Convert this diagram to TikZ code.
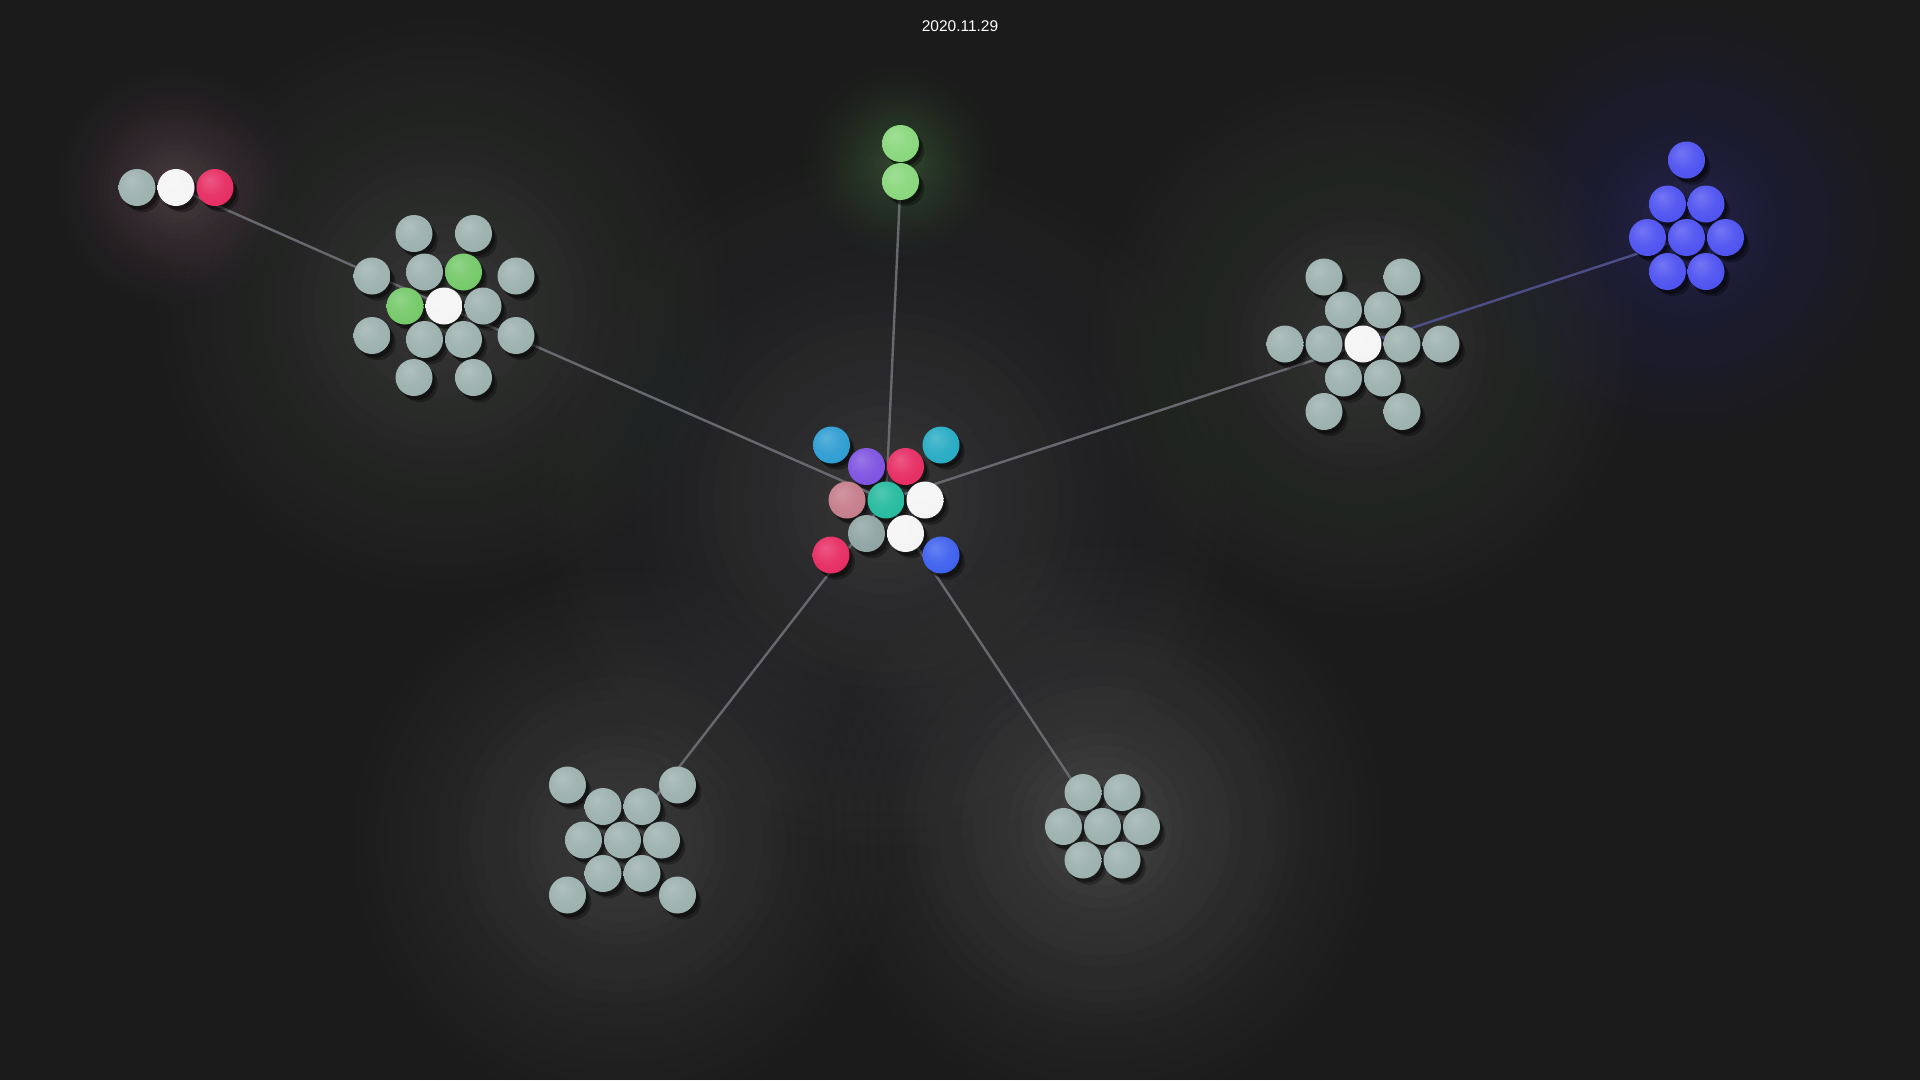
\documentclass[tikz,border=0pt]{standalone}
\usepackage{fontspec}
\setmainfont{Liberation Sans}
\usetikzlibrary{shadows}
\definecolor{bg}{HTML}{1B1B1B}
\definecolor{ballgray}{HTML}{9AAFAD}
\definecolor{ballwhite}{HTML}{F4F4F4}
\definecolor{ballred}{HTML}{E6285F}
\definecolor{ballgreen}{HTML}{72C866}
\definecolor{balllime}{HTML}{86D679}
\definecolor{ballcyan}{HTML}{2A9BD1}
\definecolor{ballteal}{HTML}{22A9C2}
\definecolor{ballpurple}{HTML}{7B4FE0}
\definecolor{ballmauve}{HTML}{C47A88}
\definecolor{ballmint}{HTML}{20B99C}
\definecolor{ballslate}{HTML}{8EA2A2}
\definecolor{ballblue}{HTML}{3A5EEE}
\definecolor{ballindigo}{HTML}{4B4FF0}
\definecolor{edgegray}{HTML}{68686F}
\definecolor{edgeblue}{HTML}{4E4E86}
\definecolor{glowgray}{HTML}{7E7E7E}
\definecolor{glowcool}{HTML}{72727A}
\definecolor{glowsage}{HTML}{747874}
\definecolor{glowpink}{HTML}{8E7280}
\definecolor{glowgreen}{HTML}{62905E}
\definecolor{glowblue}{HTML}{4444A8}
\colorlet{sph}{gray}
\pgfdeclareradialshading[sph]{sphere}{\pgfpoint{-8bp}{10bp}}{color(0bp)=(sph!78!white); color(18bp)=(sph!93!white); color(36bp)=(sph); color(50bp)=(sph!92!black); color(62bp)=(sph!84!black)}
\pgfdeclarelayer{glowlayer}
\pgfdeclarelayer{edgelayer}
\pgfsetlayers{glowlayer,edgelayer,main}
% #1,#2 centre, #3 radius, #4 colour, #5 peak strength
\newcommand\myglow[5]{\foreach \k in {1,...,30}{\pgfmathsetmacro\rr{#3*\k/30}\pgfmathsetmacro\aa{#5*2*(30-\k+0.5)/900}\fill[#4,opacity=\aa] (#1,#2) circle[radius=\rr pt];}}
\tikzset{
  ball/.style={circle, inner sep=0pt, minimum size=37pt, draw=none,
    /utils/exec={\colorlet{sph}{#1}}, shade, shading=sphere,
    drop shadow={shadow xshift=6pt, shadow yshift=-7pt, shadow scale=0.97, fill=black, opacity=0.3},
    drop shadow={shadow xshift=3pt, shadow yshift=-4pt, fill=black, opacity=0.4}},
  link/.style={draw=edgegray, line width=2.4pt},
  bluelink/.style={draw=edgeblue, line width=2.4pt},
  datelabel/.style={text=white, font=\fontsize{15.5}{18}\selectfont, inner sep=0pt}
}
\begin{document}
\begin{tikzpicture}[x=1pt,y=-1pt]
\useasboundingbox (0,0) rectangle (1920,1080);
\begin{pgfonlayer}{glowlayer}
\fill[bg] (0,0) rectangle (1920,1080);
\myglow{886}{500}{470}{glowcool}{0.55}
\myglow{444}{306}{390}{glowsage}{0.58}
\myglow{176}{187}{155}{glowpink}{0.65}
\myglow{900}{162}{125}{glowgreen}{0.62}
\myglow{1363}{344}{370}{glowsage}{0.52}
\myglow{1686}{225}{270}{glowblue}{0.55}
\myglow{622}{840}{350}{glowgray}{0.6}
\myglow{1102}{827}{350}{glowgray}{0.72}
\end{pgfonlayer}

\node[datelabel] (date) at (960,26) {2020.11.29};

% centre cluster
\node[ball=ballcyan]   (c1)  at (831.5,445) {};
\node[ball=ballpurple] (c2)  at (866.5,466.5) {};
\node[ball=ballred]    (c3)  at (905.5,466.5) {};
\node[ball=ballteal]   (c4)  at (941,445) {};
\node[ball=ballmauve]  (c5)  at (847,500) {};
\node[ball=ballmint]   (c6)  at (886,500) {};
\node[ball=ballwhite]  (c7)  at (925,500) {};
\node[ball=ballslate]  (c8)  at (866.5,533.5) {};
\node[ball=ballwhite]  (c9)  at (905.5,533.5) {};
\node[ball=ballred]    (c10) at (831,555) {};
\node[ball=ballblue]   (c11) at (941,555) {};

% left cluster
\node[ball=ballgray]  (l1)  at (414,233.5) {};
\node[ball=ballgray]  (l2)  at (473.5,233.5) {};
\node[ball=ballgray]  (l3)  at (372,276) {};
\node[ball=ballgray]  (l4)  at (424.5,272) {};
\node[ball=ballgreen] (l5)  at (463.5,272) {};
\node[ball=ballgray]  (l6)  at (516,276) {};
\node[ball=ballgreen] (l7)  at (405,306) {};
\node[ball=ballwhite] (l8)  at (444,306) {};
\node[ball=ballgray]  (l9)  at (483,306) {};
\node[ball=ballgray]  (l10) at (372,335.5) {};
\node[ball=ballgray]  (l11) at (424.5,339.5) {};
\node[ball=ballgray]  (l12) at (463.5,339.5) {};
\node[ball=ballgray]  (l13) at (516,335.5) {};
\node[ball=ballgray]  (l14) at (414,377.5) {};
\node[ball=ballgray]  (l15) at (473.5,377.5) {};

% top-left triple
\node[ball=ballgray]  (t1) at (137,187.5) {};
\node[ball=ballwhite] (t2) at (176,187.5) {};
\node[ball=ballred]   (t3) at (215,187.5) {};

% top green pair
\node[ball=balllime] (g1) at (900.5,143.5) {};
\node[ball=balllime] (g2) at (900.5,181.5) {};

% right cluster
\node[ball=ballgray]  (r1)  at (1324,277) {};
\node[ball=ballgray]  (r2)  at (1402,277) {};
\node[ball=ballgray]  (r3)  at (1343.5,310) {};
\node[ball=ballgray]  (r4)  at (1382.5,310) {};
\node[ball=ballgray]  (r5)  at (1285,344) {};
\node[ball=ballgray]  (r6)  at (1324,344) {};
\node[ball=ballwhite] (r7)  at (1363,344) {};
\node[ball=ballgray]  (r8)  at (1402,344) {};
\node[ball=ballgray]  (r9)  at (1441,344) {};
\node[ball=ballgray]  (r10) at (1343.5,378) {};
\node[ball=ballgray]  (r11) at (1382.5,378) {};
\node[ball=ballgray]  (r12) at (1324,411.5) {};
\node[ball=ballgray]  (r13) at (1402,411.5) {};

% blue cluster
\node[ball=ballindigo] (b1) at (1686.5,160) {};
\node[ball=ballindigo] (b2) at (1667.5,204) {};
\node[ball=ballindigo] (b3) at (1706,204) {};
\node[ball=ballindigo] (b4) at (1647.5,237.5) {};
\node[ball=ballindigo] (b5) at (1686.5,237.5) {};
\node[ball=ballindigo] (b6) at (1725.5,237.5) {};
\node[ball=ballindigo] (b7) at (1667.5,271.5) {};
\node[ball=ballindigo] (b8) at (1706,271.5) {};

% bottom-left cluster
\node[ball=ballgray] (d1)  at (567.5,785) {};
\node[ball=ballgray] (d2)  at (677.5,785) {};
\node[ball=ballgray] (d3)  at (603,806.5) {};
\node[ball=ballgray] (d4)  at (642,806.5) {};
\node[ball=ballgray] (d5)  at (583.5,840) {};
\node[ball=ballgray] (d6)  at (622.5,840) {};
\node[ball=ballgray] (d7)  at (661.5,840) {};
\node[ball=ballgray] (d8)  at (603,873.5) {};
\node[ball=ballgray] (d9)  at (642,873.5) {};
\node[ball=ballgray] (d10) at (567.5,895) {};
\node[ball=ballgray] (d11) at (677.5,895) {};

% bottom-right cluster
\node[ball=ballgray] (e1) at (1083,792.5) {};
\node[ball=ballgray] (e2) at (1122,792.5) {};
\node[ball=ballgray] (e3) at (1063.5,826.5) {};
\node[ball=ballgray] (e4) at (1102.5,826.5) {};
\node[ball=ballgray] (e5) at (1141.5,826.5) {};
\node[ball=ballgray] (e6) at (1083,860) {};
\node[ball=ballgray] (e7) at (1122,860) {};

\begin{pgfonlayer}{edgelayer}
\draw[link] (t2.center) -- (l8.center);
\draw[link] (l8.center) -- (c6.center);
\draw[link] (g2.center) -- (c6.center);
\draw[link] (c6.center) -- (r7.center);
\draw[bluelink] (r7.center) -- (b5.center);
\draw[link] (c6.center) -- (d6.center);
\draw[link] (c6.center) -- (e4.center);
\end{pgfonlayer}
\end{tikzpicture}
\end{document}
